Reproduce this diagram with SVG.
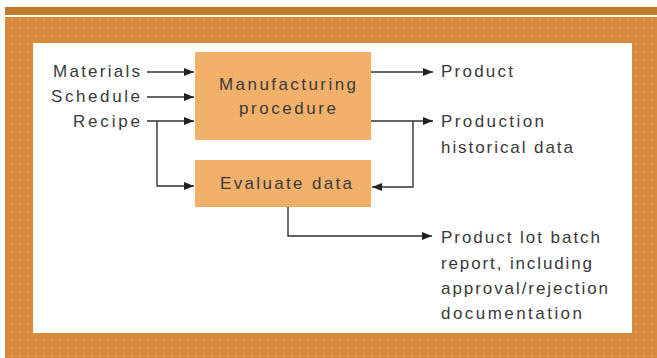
<svg xmlns="http://www.w3.org/2000/svg" width="657" height="358" viewBox="0 0 657 358">
<style>
.t{font-family:"Liberation Sans",Arial,sans-serif;font-size:17px;fill:#3a3a3a}
.c{fill:none;stroke:#333;stroke-width:1.4}
</style>
<defs>
<pattern id="frameDots" width="8" height="8" patternUnits="userSpaceOnUse">
<rect width="8" height="8" fill="#D98B3D"/>
<circle cx="4" cy="4" r="1" fill="#E6A461"/>
</pattern>
<pattern id="boxDots" width="4" height="4" patternUnits="userSpaceOnUse">
<rect width="4" height="4" fill="#F4B36D"/>
<rect x="0" y="0" width="1" height="1" fill="#E9A25A"/>
<rect x="2" y="2" width="1" height="1" fill="#E9A25A"/>
</pattern>
<marker id="ah" markerWidth="10" markerHeight="8" refX="10" refY="4" orient="auto" markerUnits="userSpaceOnUse">
<path d="M0,0 L10,4 L0,8 Z" fill="#222"/>
</marker>
</defs>
<rect x="5" y="7" width="652" height="8" fill="#C27B2C"/>
<rect x="5" y="17" width="652" height="341" fill="url(#frameDots)"/>
<rect x="33" y="43" width="599" height="290" fill="#fff"/>

<g id="inputs">
<text class="t" x="140" y="77" text-anchor="end" textLength="87" lengthAdjust="spacing">Materials</text>
<text class="t" x="140" y="102" text-anchor="end" textLength="89" lengthAdjust="spacing">Schedule</text>
<text class="t" x="140" y="127" text-anchor="end" textLength="67" lengthAdjust="spacing">Recipe</text>
</g>

<g id="manufacturing">
<rect x="195" y="52" width="176" height="88" fill="url(#boxDots)"/>
<text class="t" x="219" y="90" textLength="137" lengthAdjust="spacing">Manufacturing</text>
<text class="t" x="239" y="114" textLength="97" lengthAdjust="spacing">procedure</text>
</g>

<g id="evaluate">
<rect x="195" y="160" width="176" height="47" fill="url(#boxDots)"/>
<text class="t" x="220" y="189" textLength="132" lengthAdjust="spacing">Evaluate data</text>
</g>

<g id="outputs">
<text class="t" x="441" y="77" textLength="72" lengthAdjust="spacing">Product</text>
<text class="t" x="441" y="127" textLength="103" lengthAdjust="spacing">Production</text>
<text class="t" x="441" y="153" textLength="132" lengthAdjust="spacing">historical data</text>
<text class="t" x="441" y="243" textLength="159" lengthAdjust="spacing">Product lot batch</text>
<text class="t" x="441" y="269" textLength="151" lengthAdjust="spacing">report, including</text>
<text class="t" x="441" y="294" textLength="167" lengthAdjust="spacing">approval/rejection</text>
<text class="t" x="441" y="319" textLength="141" lengthAdjust="spacing">documentation</text>
</g>

<g id="connectors">
<path class="c" d="M147,72 H194" marker-end="url(#ah)"/>
<path class="c" d="M147,97 H194" marker-end="url(#ah)"/>
<path class="c" d="M147,121 H194" marker-end="url(#ah)"/>
<path class="c" d="M157,121 V186 H194" marker-end="url(#ah)"/>
<path class="c" d="M371,72 H433" marker-end="url(#ah)"/>
<path class="c" d="M371,121 H433" marker-end="url(#ah)"/>
<path class="c" d="M413,121 V187 H372" marker-end="url(#ah)"/>
<path class="c" d="M288,207 V236 H432" marker-end="url(#ah)"/>
</g>
</svg>
